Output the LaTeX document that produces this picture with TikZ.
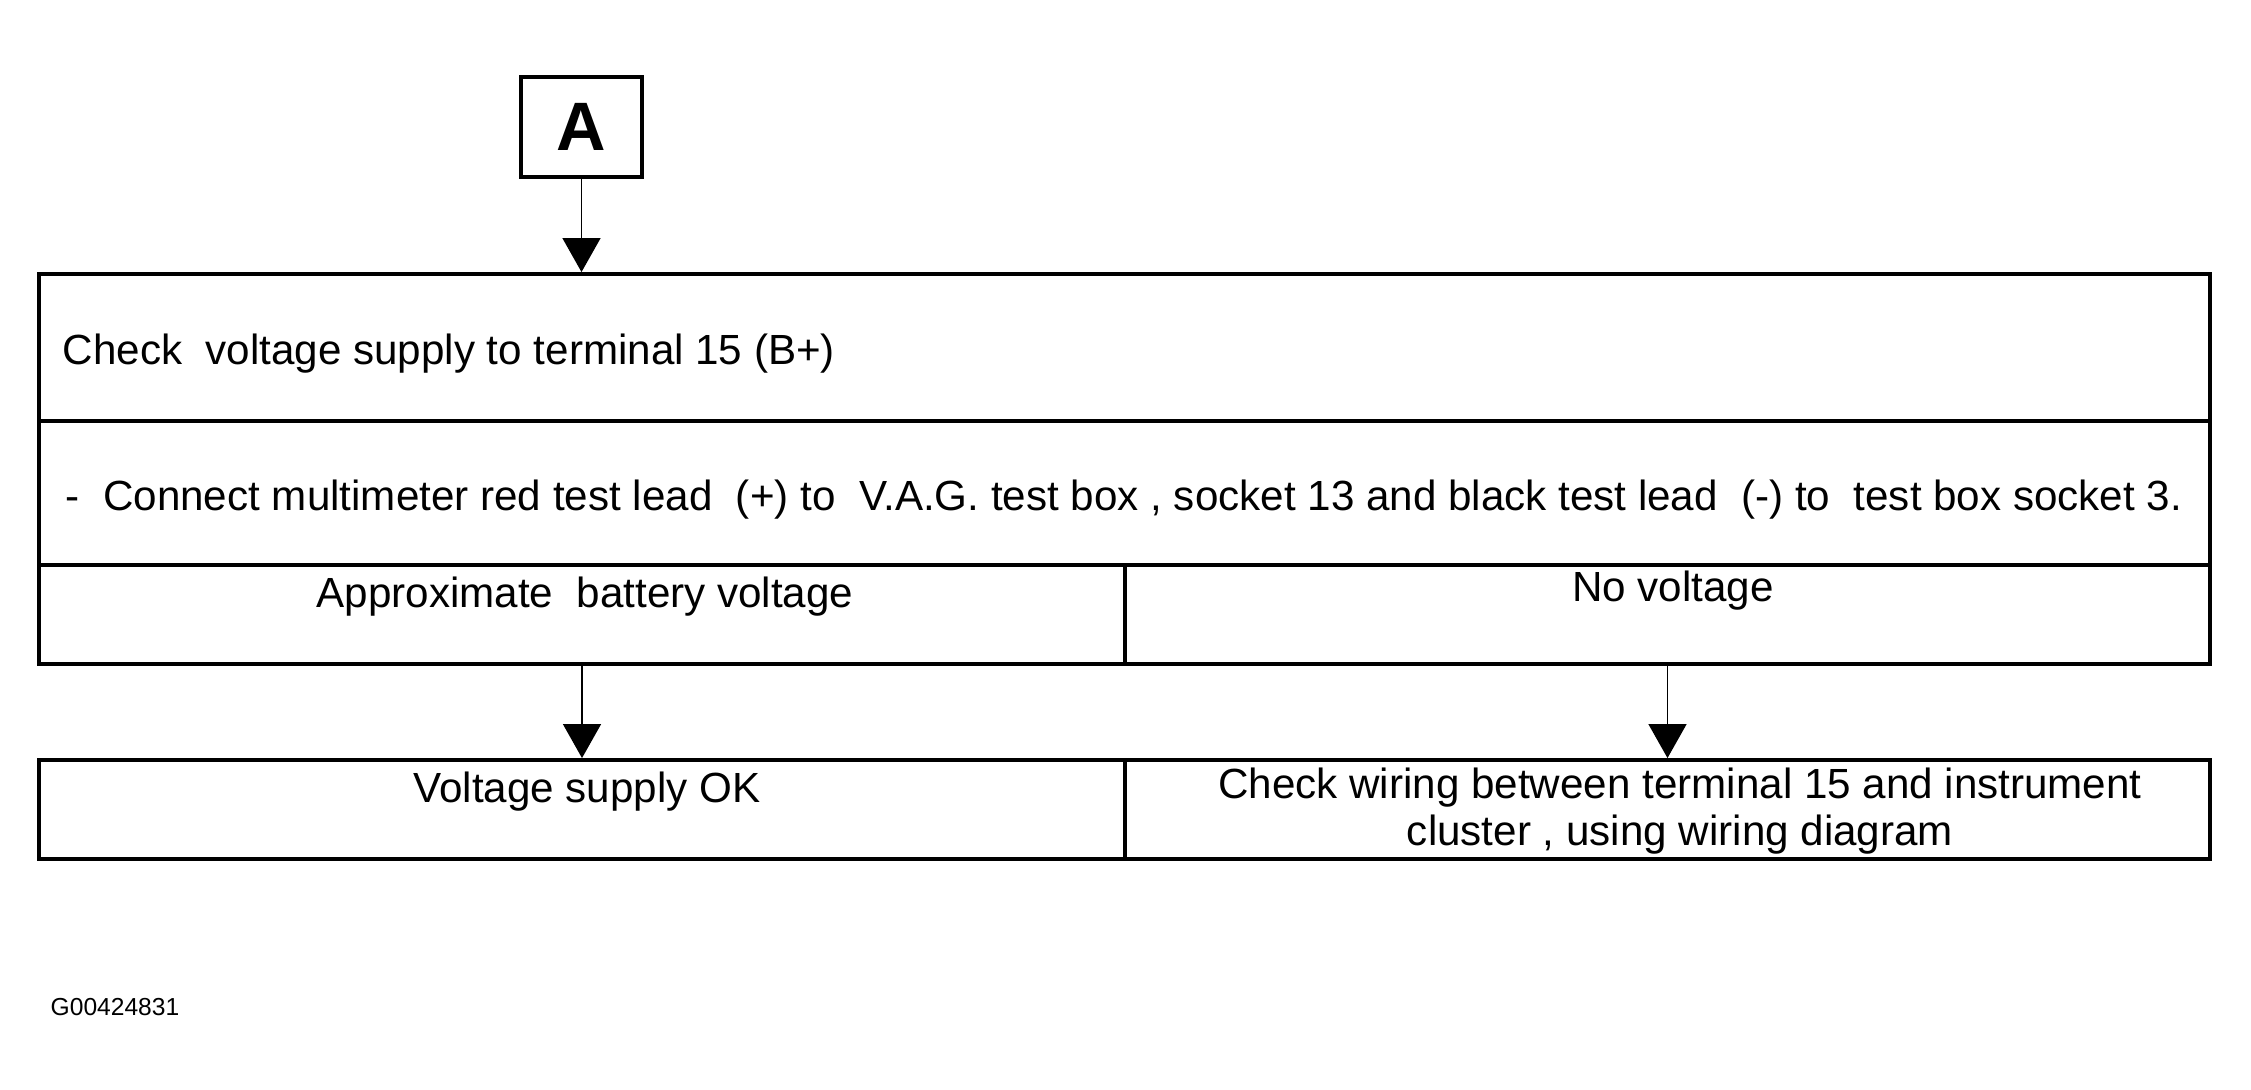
\documentclass[tikz,border=0pt]{standalone}
\usepackage{fontspec}
\setmainfont{Liberation Sans}
\usetikzlibrary{arrows.meta,positioning}

\begin{document}
\begin{tikzpicture}[thick,
    cell/.style={draw, line width=2.2pt, inner sep=0pt},
    txt/.style={font=\fontsize{24}{26.7}\selectfont, inner sep=0pt},
    >={Triangle[length=0.68cm, width=0.76cm]}]
    \useasboundingbox (0,0) rectangle (45.02,-21.8);

    % Start marker
    \node[cell, minimum width=2.42cm, minimum height=2cm, font=\fontsize{39}{43}\selectfont\bfseries] (A) at (11.63,-2.54) {A};

    % Check and instruction rows
    \node[cell, minimum width=43.42cm, minimum height=2.94cm] (check) at (22.49,-6.95) {};
    \node[cell, minimum width=43.42cm, minimum height=2.88cm] (connect) at (22.49,-9.86) {};
    \node[txt, anchor=base west] (checkT) at (1.24,-7.3) {Check\ \ voltage supply to terminal 15 (B+)};
    \node[txt, anchor=base west] (connectT) at (1.3,-10.22) {-\ \ Connect multimeter red test lead\ \ (+) to\ \ V.A.G. test box , socket 13 and black test lead\ \ (-) to\ \ test box socket 3.};

    % Results
    \node[cell, minimum width=21.72cm, minimum height=1.98cm] (approx) at (11.64,-12.29) {};
    \node[cell, minimum width=21.7cm, minimum height=1.98cm] (novolt) at (33.35,-12.29) {};
    \node[txt, anchor=base] (approxT) at (11.7,-12.15) {Approximate\ \ battery voltage};
    \node[txt, anchor=base] (novoltT) at (33.46,-12.04) {No voltage};

    % Actions
    \node[cell, minimum width=21.72cm, minimum height=1.98cm] (supply) at (11.64,-16.19) {};
    \node[cell, minimum width=21.7cm, minimum height=1.98cm] (wiring) at (33.35,-16.19) {};
    \node[txt, anchor=base] (supplyT) at (11.74,-16.04) {Voltage supply OK};
    \node[txt, anchor=north, align=center] (wiringT) at (33.6,-15.34) {Check wiring between terminal 15 and instrument\\cluster , using wiring diagram};

    % Connect nodes
    \draw[->] (A.south) -- (A.south |- check.north);
    \draw[->] (approx) -- (supply);
    \draw[->] (novolt) -- (wiring);

    % Figure number
    \node[anchor=base west, inner sep=0pt, font=\fontsize{14}{16}\selectfont] (fig) at (1.0,-20.3) {G00424831};
\end{tikzpicture}
\end{document}
